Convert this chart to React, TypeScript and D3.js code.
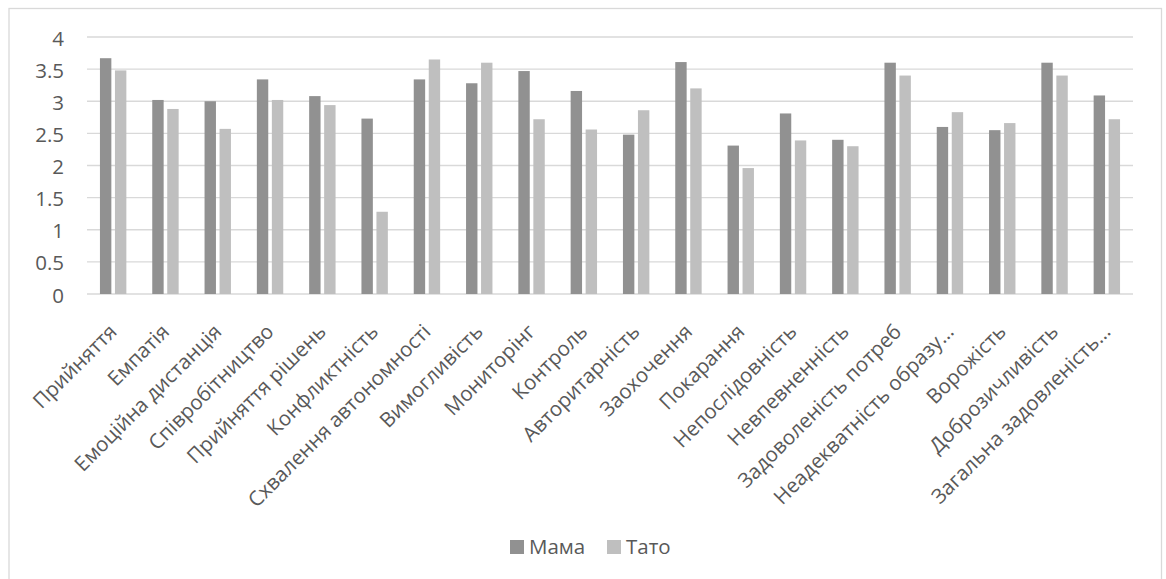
import React from "react";
import * as d3 from "d3";

const categories = [
  "Прийняття",
  "Емпатія",
  "Емоційна дистанція",
  "Співробітництво",
  "Прийняття рішень",
  "Конфликтність",
  "Схвалення автономності",
  "Вимогливість",
  "Мониторінг",
  "Контроль",
  "Авторитарність",
  "Заохочення",
  "Покарання",
  "Непослідовність",
  "Невпевненність",
  "Задоволеність потреб",
  "Неадекватність образу…",
  "Ворожість",
  "Доброзичливість",
  "Загальна задовленість…",
];

const mama = [
  3.67, 3.02, 3.0, 3.34, 3.08, 2.73, 3.34, 3.28, 3.47, 3.16,
  2.48, 3.61, 2.31, 2.81, 2.4, 3.6, 2.6, 2.55, 3.6, 3.09,
];

const tato = [
  3.48, 2.88, 2.57, 3.02, 2.94, 1.28, 3.65, 3.6, 2.72, 2.56,
  2.86, 3.2, 1.96, 2.39, 2.3, 3.4, 2.83, 2.66, 3.4, 2.72,
];

const seriesNames = ["Мама", "Тато"];
const seriesColors = ["#919191", "#bfbfbf"];
const yTicks = [0, 0.5, 1, 1.5, 2, 2.5, 3, 3.5, 4];

const W = 1166;
const H = 579;
const FONT = "'Open Sans', 'Noto Sans', sans-serif";
const TEXT = "#595959";

export default function App() {
  const plot = { left: 87, right: 1133, top: 37, bottom: 294 };

  const x0 = d3
    .scaleBand<string>()
    .domain(categories)
    .range([plot.left, plot.right])
    .padding(0);

  const groupWidth = 26.4;
  const x1 = d3
    .scaleBand<string>()
    .domain(seriesNames)
    .range([0, groupWidth])
    .paddingInner(0.24)
    .paddingOuter(0);

  const y = d3.scaleLinear().domain([0, 4]).range([plot.bottom, plot.top]);

  const values = [mama, tato];

  return (
    <svg
      width={W}
      height={H}
      style={{ position: "absolute", left: 0, top: 0, background: "#fff" }}
      fontFamily={FONT}
    >
      {/* chart frame */}
      <rect x={9} y={8.5} width={1152.5} height={H + 10} fill="#fff" stroke="#d9d9d9" strokeWidth={1.3} />

      {/* horizontal gridlines */}
      {yTicks.map((t) => (
        <line
          key={`g${t}`}
          x1={plot.left}
          x2={plot.right}
          y1={y(t)}
          y2={y(t)}
          stroke="#d9d9d9"
          strokeWidth={1.3}
        />
      ))}

      {/* y axis labels */}
      {yTicks.map((t) => (
        <text
          key={`t${t}`}
          x={64}
          y={y(t)}
          dy="0.42em"
          textAnchor="end"
          fontSize={20.5}
          fill={TEXT}
        >
          {String(t)}
        </text>
      ))}

      {/* bars */}
      {categories.map((c, i) => {
        const gx = (x0(c) as number) + (x0.bandwidth() - groupWidth) / 2;
        return (
          <g key={c}>
            {seriesNames.map((s, k) => (
              <rect
                key={s}
                x={gx + (x1(s) as number)}
                y={y(values[k][i])}
                width={x1.bandwidth()}
                height={y(0) - y(values[k][i])}
                fill={seriesColors[k]}
              />
            ))}
          </g>
        );
      })}

      {/* category labels */}
      {categories.map((c) => {
        const cx = (x0(c) as number) + x0.bandwidth() / 2 + 5;
        const cy = plot.bottom + 39;
        return (
          <text
            key={`l${c}`}
            x={cx}
            y={cy}
            textAnchor="end"
            fontSize={20.5}
            fill={TEXT}
            transform={`rotate(-45 ${cx} ${cy})`}
          >
            {c}
          </text>
        );
      })}

      {/* legend */}
      {seriesNames.map((s, k) => {
        const lx = k === 0 ? 510 : 607;
        return (
          <g key={`lg${s}`}>
            <rect x={lx} y={540} width={14} height={14} fill={seriesColors[k]} />
            <text x={lx + 19} y={554} fontSize={20.5} fill={TEXT}>
              {s}
            </text>
          </g>
        );
      })}
    </svg>
  );
}
